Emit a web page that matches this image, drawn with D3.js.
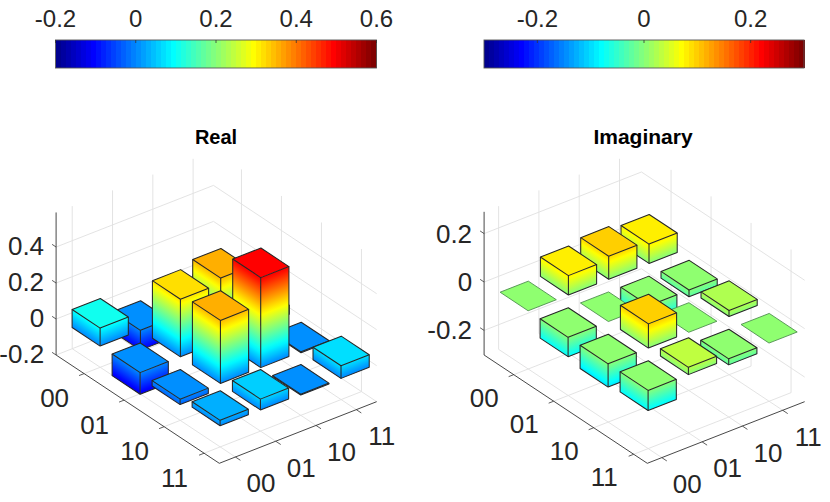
<!DOCTYPE html>
<html><head><meta charset="utf-8">
<script src="https://cdn.jsdelivr.net/npm/d3@7"></script>
<style>html,body{margin:0;padding:0;background:#fff}svg{display:block}text{font-family:"Liberation Sans",Arial,sans-serif;fill:#262626}</style>
</head><body><svg id="c" width="830" height="502"></svg>
<script>
const categories = ["00","01","10","11"];
const realValues = [
  [0.10,-0.11,-0.03,0.03],
  [-0.12,0.32,0.35,0.05],
  [-0.03,0.35,0.50,-0.005],
  [0.03,0.06,-0.005,0.07]
];
const imagValues = [
  [0,0.08,0.095,0.08],
  [-0.08,0,-0.10,-0.028],
  [-0.096,0.10,0,0.025],
  [-0.083,0.03,-0.025,0]
];
const realZTicks = [-0.2,0,0.2,0.4];
const imagZTicks = [-0.2,0,0.2];
const realBarTicks = [-0.2,0,0.2,0.4,0.6];
const imagBarTicks = [-0.2,0,0.2];
const halfWidth = 0.35;

const svg = d3.select("#c");
const defs = svg.append("defs");
let gid = 0;
function jet(t){
  const cl = v => Math.max(0,Math.min(1,v));
  const r = cl(Math.min(4*t-1.5,-4*t+4.5)), g = cl(Math.min(4*t-0.5,-4*t+3.5)), b = cl(Math.min(4*t+0.5,-4*t+2.5));
  return d3.rgb(r*255,g*255,b*255).formatHex();
}
const jet64 = t => jet(Math.min(64,Math.floor(t*64)+1)/64);

function colorbar(cfg){
  const g = svg.append("g");
  const x = d3.scaleLinear().domain(cfg.domain).range([cfg.x0,cfg.x1]);
  const n = 64, w = (cfg.x1-cfg.x0)/n;
  g.selectAll("rect.s").data(d3.range(n)).join("rect").attr("class","s")
    .attr("x",i=>cfg.x0+i*w).attr("y",40).attr("width",w+0.5).attr("height",28)
    .attr("shape-rendering","crispEdges").attr("fill",i=>jet((i+1)/n));
  g.append("rect").attr("x",cfg.x0).attr("y",40).attr("width",cfg.x1-cfg.x0).attr("height",28)
    .attr("fill","none").attr("stroke","#555").attr("stroke-width",0.9);
  g.selectAll("line").data(cfg.ticks).join("line")
    .attr("x1",d=>x(d)).attr("x2",d=>x(d)).attr("y1",40).attr("y2",43)
    .attr("stroke","#333").attr("stroke-width",0.8);
  g.selectAll("text").data(cfg.ticks).join("text")
    .attr("x",d=>x(d)).attr("y",27).attr("text-anchor","middle").attr("font-size",24).text(String);
}
colorbar({domain:[-0.2,0.6],x0:55.5,x1:376.5,ticks:realBarTicks});
colorbar({domain:[-0.3,0.3],x0:484,x1:804,ticks:imagBarTicks});

function plot(cfg){
  const g = svg.append("g");
  const ex=[40.3,-15.78], ey=[40,26.54];
  const cs = d3.scaleLinear().domain([cfg.c0,cfg.c0+1]).range([0,1]);
  const rs = d3.scaleLinear().domain([cfg.r1,cfg.r1-1]).range([0,1]);
  const zs = d3.scaleLinear().domain([cfg.zmin,cfg.zmin+1]).range([0,cfg.zpx]);
  const P = (r,c,z)=>{
    const a=cs(c), b=rs(r), h=zs(z);
    return [cfg.F[0]+a*ex[0]-b*ey[0], cfg.F[1]+a*ex[1]-b*ey[1]-h];
  };
  const T = z => (z-cfg.domain[0])/(cfg.domain[1]-cfg.domain[0]);
  const rmin=cfg.r1-4.08, cmax=cfg.c0+3.905, grid="#e0e0e0";
  const seg=(a,b,col,w)=>g.append("line").attr("x1",a[0]).attr("y1",a[1]).attr("x2",b[0]).attr("y2",b[1]).attr("stroke",col).attr("stroke-width",w);
  const idx=[1,2,3,4];
  idx.forEach(v=>{
    seg(P(v,cfg.c0,cfg.zmin),P(v,cmax,cfg.zmin),grid,0.9);
    seg(P(cfg.r1,v,cfg.zmin),P(rmin,v,cfg.zmin),grid,0.9);
    seg(P(rmin,v,cfg.zmin),P(rmin,v,cfg.zmax),grid,0.9);
    seg(P(v,cmax,cfg.zmin),P(v,cmax,cfg.zmax),grid,0.9);
  });
  cfg.zTicks.forEach(z=>{
    seg(P(rmin,cfg.c0,z),P(rmin,cmax,z),grid,0.9);
    seg(P(rmin,cmax,z),P(cfg.r1,cmax,z),grid,0.9);
  });
  const ax="#333";
  seg(P(rmin,cfg.c0,cfg.zmin),P(cfg.r1,cfg.c0,cfg.zmin),ax,0.9);
  seg(P(cfg.r1,cfg.c0,cfg.zmin),P(cfg.r1,cmax,cfg.zmin),ax,0.9);
  seg(P(rmin,cfg.c0,cfg.zmin),P(rmin,cfg.c0,cfg.zmax),ax,0.9);
  idx.forEach((v,i)=>{
    const a=P(v,cfg.c0,cfg.zmin), b=P(v,cfg.c0-0.125,cfg.zmin);
    seg(a,b,ax,0.8);
    g.append("text").attr("x",a[0]-29.5).attr("y",a[1]+cfg.labDy).attr("text-anchor","middle").attr("font-size",26).text(categories[i]);
    const p=P(cfg.r1,v,cfg.zmin), q=P(cfg.r1+0.125,v,cfg.zmin);
    seg(p,q,ax,0.8);
    g.append("text").attr("x",p[0]+25.5).attr("y",p[1]+35.5).attr("text-anchor","middle").attr("font-size",26).text(categories[i]);
  });
  cfg.zTicks.forEach(z=>{
    const a=P(rmin,cfg.c0,z), b=P(rmin-0.1,cfg.c0,z);
    seg(a,b,ax,0.8);
    g.append("text").attr("x",a[0]-12).attr("y",a[1]+cfg.zDy).attr("text-anchor","end").attr("font-size",26).text(String(z));
  });
  const bars=[];
  cfg.values.forEach((row,ri)=>row.forEach((v,ci)=>bars.push({r:ri+1,c:ci+1,v})));
  bars.sort((a,b)=>(a.r-a.c)-(b.r-b.c));
  const line=d3.line();
  bars.forEach(b=>{
    const top=Math.max(b.v,0), bot=Math.min(b.v,0), hw=halfWidth;
    const Lt=[b.r-hw,b.c-hw], Fr=[b.r+hw,b.c-hw], Rt=[b.r+hw,b.c+hw], Bk=[b.r-hw,b.c+hw];
    const bg=g.append("g");
    if(top>bot){
      [[Lt,Fr],[Fr,Rt]].forEach(([A,B])=>{
        const s=P(A[0],A[1],bot), e=P(B[0],B[1],bot), u=P(A[0],A[1],top);
        const len=Math.hypot(e[0]-s[0],e[1]-s[1]), nx=-(e[1]-s[1])/len, ny=(e[0]-s[0])/len;
        const d=(u[0]-s[0])*nx+(u[1]-s[1])*ny;
        const id="g"+(gid++);
        const lg=defs.append("linearGradient").attr("id",id).attr("gradientUnits","userSpaceOnUse")
          .attr("x1",s[0]).attr("y1",s[1]).attr("x2",s[0]+nx*d).attr("y2",s[1]+ny*d);
        d3.range(25).forEach(i=>{
          const f=i/24;
          lg.append("stop").attr("offset",f).attr("stop-color",jet(T(bot+(top-bot)*f)+1/128));
        });
        bg.append("path").attr("d",line([s,e,P(B[0],B[1],top),u])+"Z").attr("fill","url(#"+id+")");
      });
    }
    const flat=b.v===0, edge=flat?"#4f8f4f":"#262626", ew=flat?0.9:1.05;
    bg.append("path").attr("d",line([Lt,Fr,Rt,Bk].map(p=>P(p[0],p[1],top)))+"Z")
      .attr("fill",jet64(T(top))).attr("stroke",edge).attr("stroke-width",ew).attr("stroke-linejoin","round");
    if(!flat){
      const o=line([P(Lt[0],Lt[1],top),P(Lt[0],Lt[1],bot),P(Fr[0],Fr[1],bot),P(Rt[0],Rt[1],bot),P(Rt[0],Rt[1],top)]);
      bg.append("path").attr("d",o).attr("fill","none").attr("stroke",edge).attr("stroke-width",ew).attr("stroke-linejoin","round");
      bg.append("path").attr("d",line([P(Fr[0],Fr[1],bot),P(Fr[0],Fr[1],top)])).attr("fill","none").attr("stroke",edge).attr("stroke-width",ew);
    }
  });
  g.append("text").attr("x",cfg.titleX).attr("y",143.5).attr("text-anchor","middle").attr("font-size",cfg.titleSize).attr("font-weight","bold").style("fill","#000").text(cfg.title);
}
plot({title:"Real",titleX:216,titleSize:20,F:[219.3,463.3],c0:0.6,r1:4.38,zmin:-0.2,zmax:0.592,zpx:180,domain:[-0.2,0.6],values:realValues,zTicks:realZTicks,labDy:33.5,zDy:7.5});
plot({title:"Imaginary",titleX:643,titleSize:21,F:[647.3,463.3],c0:0.64,r1:4.34,zmin:-0.3017,zmax:0.29,zpx:242,domain:[-0.3,0.3],values:imagValues,zTicks:imagZTicks,labDy:32,zDy:9});
</script></body></html>
